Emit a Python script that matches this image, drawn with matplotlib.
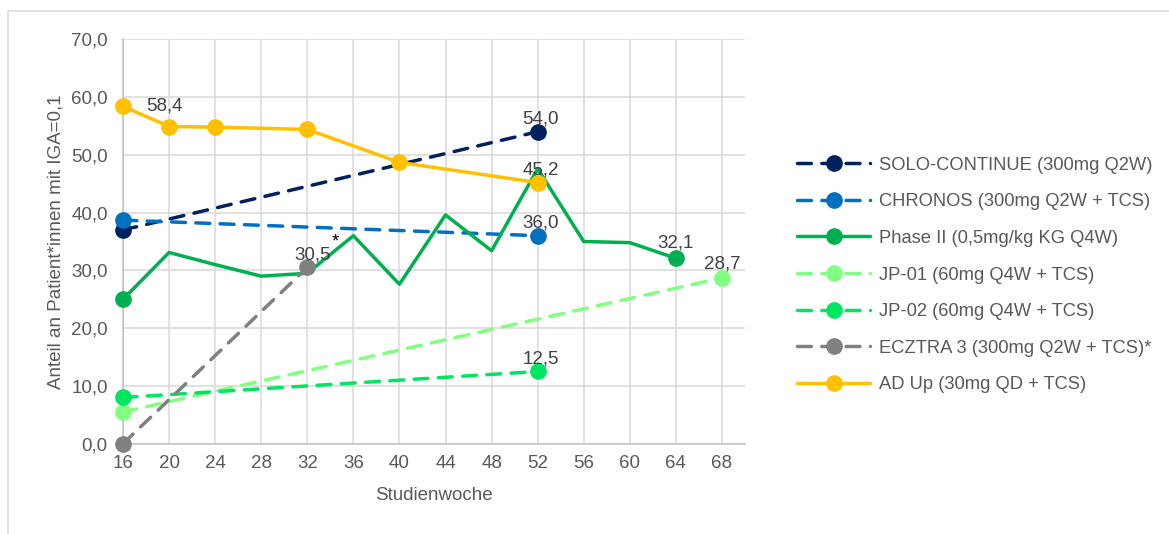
import matplotlib
matplotlib.use("Agg")
import matplotlib.pyplot as plt
from matplotlib.lines import Line2D
from matplotlib.ticker import FuncFormatter, MultipleLocator

plt.rcParams['font.family'] = ['Liberation Sans', 'DejaVu Sans']

# ---- data -------------------------------------------------------------
weeks_solo = [16, 52]
solo = [37.0, 54.0]

weeks_chronos = [16, 52]
chronos = [38.7, 36.0]

weeks_phase2 = [16, 20, 24, 28, 32, 36, 40, 44, 48, 52, 56, 60, 64]
phase2 = [25.0, 33.1, 31.0, 29.0, 29.5, 36.0, 27.6, 39.6, 33.4, 47.6, 35.0, 34.8, 32.1]
phase2_marked = [16, 64]

weeks_jp01 = [16, 68]
jp01 = [5.5, 28.7]

weeks_jp02 = [16, 52]
jp02 = [8.0, 12.5]

weeks_ecztra = [16, 32]
ecztra = [0.0, 30.5]

weeks_adup = [16, 20, 24, 32, 40, 52]
adup = [58.4, 54.9, 54.8, 54.4, 48.7, 45.2]

labels = [
    "SOLO-CONTINUE (300mg Q2W)",
    "CHRONOS (300mg Q2W + TCS)",
    "Phase II (0,5mg/kg KG Q4W)",
    "JP-01 (60mg Q4W + TCS)",
    "JP-02 (60mg Q4W + TCS)",
    "ECZTRA 3 (300mg Q2W + TCS)*",
    "AD Up (30mg QD + TCS)",
]
colors = ["#002060", "#0070C0", "#00B050", "#80FF80", "#00E660", "#808080", "#FFC000"]
x_ticks = list(range(16, 72, 4))

# ---- figure -----------------------------------------------------------
W, H = 1169, 534
fig = plt.figure(figsize=(W / 100, H / 100), dpi=100)
ax = fig.add_axes([123 / W, 1 - 443.7 / H, (745 - 123) / W, (443.7 - 39.3) / H])

LW = 2.5
MS = 11
DASH = (4, 3)
FS = 13.5

def fmt(v):
    return f"{v:.1f}".replace(".", ",")

def draw(xs, ys, color, dashed, mark_x=None):
    ls = (0, DASH) if dashed else "-"
    ax.plot(xs, ys, color=color, lw=LW, linestyle=ls, dash_capstyle="round",
            solid_capstyle="round", zorder=3, clip_on=False)
    if mark_x is None:
        mx, my = xs, ys
    else:
        mx = [x for x in xs if x in mark_x]
        my = [y for x, y in zip(xs, ys) if x in mark_x]
    ax.plot(mx, my, linestyle="none", marker="o", ms=MS, color=color,
            zorder=4, clip_on=False)

draw(weeks_solo, solo, colors[0], True)
draw(weeks_chronos, chronos, colors[1], True)
draw(weeks_phase2, phase2, colors[2], False, mark_x=phase2_marked)
draw(weeks_jp01, jp01, colors[3], True)
draw(weeks_jp02, jp02, colors[4], True)
draw(weeks_ecztra, ecztra, colors[5], True)
draw(weeks_adup, adup, colors[6], False)

# value labels
lab_kw = dict(textcoords="offset points", fontsize=FS, color="#404040",
              ha="center", va="baseline", zorder=5)
ax.annotate(fmt(solo[-1]), (weeks_solo[-1], solo[-1]), xytext=(2, 6), **lab_kw)
ax.annotate(fmt(adup[-1]), (weeks_adup[-1], adup[-1]), xytext=(2, 6), **lab_kw)
ax.annotate(fmt(chronos[-1]), (weeks_chronos[-1], chronos[-1]), xytext=(2, 6), **lab_kw)
ax.annotate(fmt(phase2[-1]), (weeks_phase2[-1], phase2[-1]), xytext=(0, 8), **lab_kw)
ax.annotate(fmt(jp01[-1]), (weeks_jp01[-1], jp01[-1]), xytext=(0, 7), **lab_kw)
ax.annotate(fmt(jp02[-1]), (weeks_jp02[-1], jp02[-1]), xytext=(2, 6), **lab_kw)
ax.annotate(fmt(ecztra[-1]), (weeks_ecztra[-1], ecztra[-1]), xytext=(4, 6), **lab_kw)
ax.annotate("*", (weeks_ecztra[-1], ecztra[-1]), xytext=(20, 15),
            textcoords="offset points", fontsize=FS, color="black",
            ha="center", va="baseline", zorder=5)
ax.annotate(fmt(adup[0]), (weeks_adup[0], adup[0]), xytext=(30, 0),
            textcoords="offset points", fontsize=FS, color="#404040",
            ha="center", va="center", zorder=5)

# axes
ax.set_xlim(16, 70)
ax.set_ylim(0, 70)
ax.set_xticks(x_ticks)
ax.yaxis.set_major_locator(MultipleLocator(10))
ax.yaxis.set_major_formatter(FuncFormatter(lambda v, p: fmt(v)))
ax.grid(True, color="#D9D9D9", lw=1.1, zorder=0)
ax.set_axisbelow(True)
for s in ["top", "right"]:
    ax.spines[s].set_visible(False)
for s in ["left", "bottom"]:
    ax.spines[s].set_color("#BFBFBF")
    ax.spines[s].set_linewidth(1.1)
ax.tick_params(axis="both", length=0, labelsize=FS, labelcolor="#595959")
ax.tick_params(axis="y", pad=11)
ax.tick_params(axis="x", pad=8)
ax.set_xlabel("Studienwoche", fontsize=FS, color="#595959", labelpad=11)
ax.set_ylabel("Anteil an Patient*innen mit IGA=0,1", fontsize=FS,
              color="#595959", labelpad=5)

# legend
handles = []
for i, c in enumerate(colors):
    dashed = i not in (2, 6)
    handles.append(Line2D([0], [0], color=c, lw=LW,
                          linestyle=(0, DASH) if dashed else "-",
                          dash_capstyle="round", solid_capstyle="round",
                          marker="o", ms=MS))
leg = fig.legend(handles, labels, loc="center left",
                 bbox_to_anchor=(797 / W, 1 - 275 / H), frameon=False,
                 fontsize=13.2, labelcolor="#595959", handlelength=4.0,
                 handletextpad=0.45, labelspacing=1.07, borderpad=0,
                 borderaxespad=0)

# outer frame (top and left edges)
fig.add_artist(Line2D([7.5 / W, 7.5 / W], [0, 1 - 10.5 / H],
                      transform=fig.transFigure, color="#D9D9D9", lw=1.1))
fig.add_artist(Line2D([7.5 / W, 1], [1 - 10.5 / H, 1 - 10.5 / H],
                      transform=fig.transFigure, color="#D9D9D9", lw=1.1))

fig.savefig("out.png", dpi=100)
